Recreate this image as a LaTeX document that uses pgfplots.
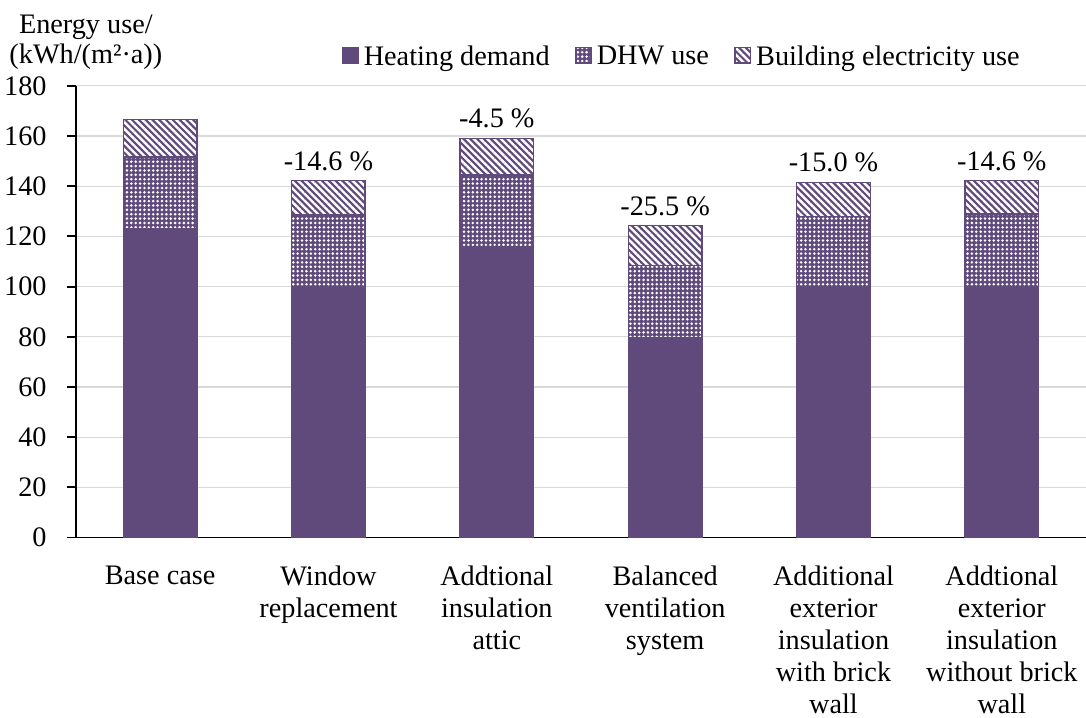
\documentclass[border=0pt]{standalone}
\usepackage{fontspec}
\setmainfont{Liberation Serif}
\usepackage{pgfplots}
\usepackage{pgfplotstable}
\pgfplotsset{compat=1.18}
\usetikzlibrary{patterns.meta}
\definecolor{bar}{HTML}{604A7B}
\definecolor{gridc}{HTML}{D9D9D9}
\pgfplotsset{sqlegend/.style={legend image code/.code={\draw[##1] (0pt,-1.9pt) rectangle (5.4pt,3.5pt);}}}

\pgfplotstableread{
x h d e t lab
0 123.0 28.6 15.1 166.7 {}
1 100.0 28.6 13.7 142.3 {-14.6 \%}
2 116.0 28.5 14.6 159.1 {-4.5 \%}
3 79.6 28.7 16.0 124.3 {-25.5 \%}
4 99.5 28.5 13.6 141.6 {-15.0 \%}
5 100.0 29.0 13.3 142.3 {-14.6 \%}
}\data

\begin{document}
\begin{tikzpicture}
\begin{axis}[
  name=ax,
  width=357.6pt, height=159.9pt, scale only axis,
  ybar stacked, bar width=26pt,
  xmin=-0.5, xmax=5.5, ymin=0, ymax=180,
  xtick={0,1,2,3,4,5},
  xticklabels={{Base case},{Window\\replacement},{Addtional\\insulation\\attic},{Balanced\\ventilation\\system},{Additional\\exterior\\insulation\\with brick\\wall},{Addtional\\exterior\\insulation\\without brick\\wall}},
  xticklabel style={align=center, yshift=-3.2pt, font=\fontsize{10}{11.4}\selectfont},
  ytick={0,20,...,180},
  axis x line*=bottom, axis y line*=left,
  axis line style={line width=0.7pt, black},
  ymajorgrids, grid style={gridc, line width=0.4pt},
  tick align=outside, major tick length=3.2pt,
  xtick style={draw=none},
  ytick style={black, line width=0.7pt},
  /pgf/number format/assume math mode=true,
  yticklabel style={xshift=-3.7pt},
  clip=false,
  legend columns=-1,
  legend style={draw=none, fill=none, inner sep=0pt, nodes={inner sep=0pt},
    at={(0,1)}, anchor=south west, xshift=94pt, yshift=5.6pt,
    /tikz/every odd column/.append style={column sep=1.8pt},
    /tikz/every even column/.append style={column sep=9pt}},
]
\addplot[fill=bar, draw=bar, line width=0.5pt, sqlegend]
  table[x=x, y=h] {\data};
\addlegendentry{Heating demand}
\addplot[draw=bar, line width=0.5pt, preaction={fill=bar},
  pattern={Dots[distance=1.55pt, radius=0.5pt]}, pattern color=white, sqlegend]
  table[x=x, y=d] {\data};
\addlegendentry{DHW use}
\addplot[draw=bar, line width=0.5pt, preaction={fill=bar},
  pattern={Lines[angle=-45, distance=1.7pt, line width=0.85pt]}, pattern color=white,
  sqlegend]
  table[x=x, y=e] {\data};
\addlegendentry{Building electricity use}
\end{axis}
\begin{axis}[
  width=357.6pt, height=159.9pt, scale only axis,
  xmin=-0.5, xmax=5.5, ymin=0, ymax=180,
  hide axis, clip=false]
\addplot[draw=none, mark=none,
  nodes near coords, point meta=explicit symbolic,
  nodes near coords style={black, anchor=south}]
  table[x=x, y=t, meta=lab] {\data};
\end{axis}
\node[anchor=base] at ([xshift=3.5pt, yshift=18.7pt]ax.north west) {Energy use/};
\node[anchor=base] at ([xshift=3.5pt, yshift=7.8pt]ax.north west) {(kWh/(m²·a))};
\pgfresetboundingbox
\path[use as bounding box] ([xshift=-26.9pt, yshift=-63.8pt]ax.south west) rectangle ([yshift=30.4pt]ax.north east);
\end{tikzpicture}
\end{document}
